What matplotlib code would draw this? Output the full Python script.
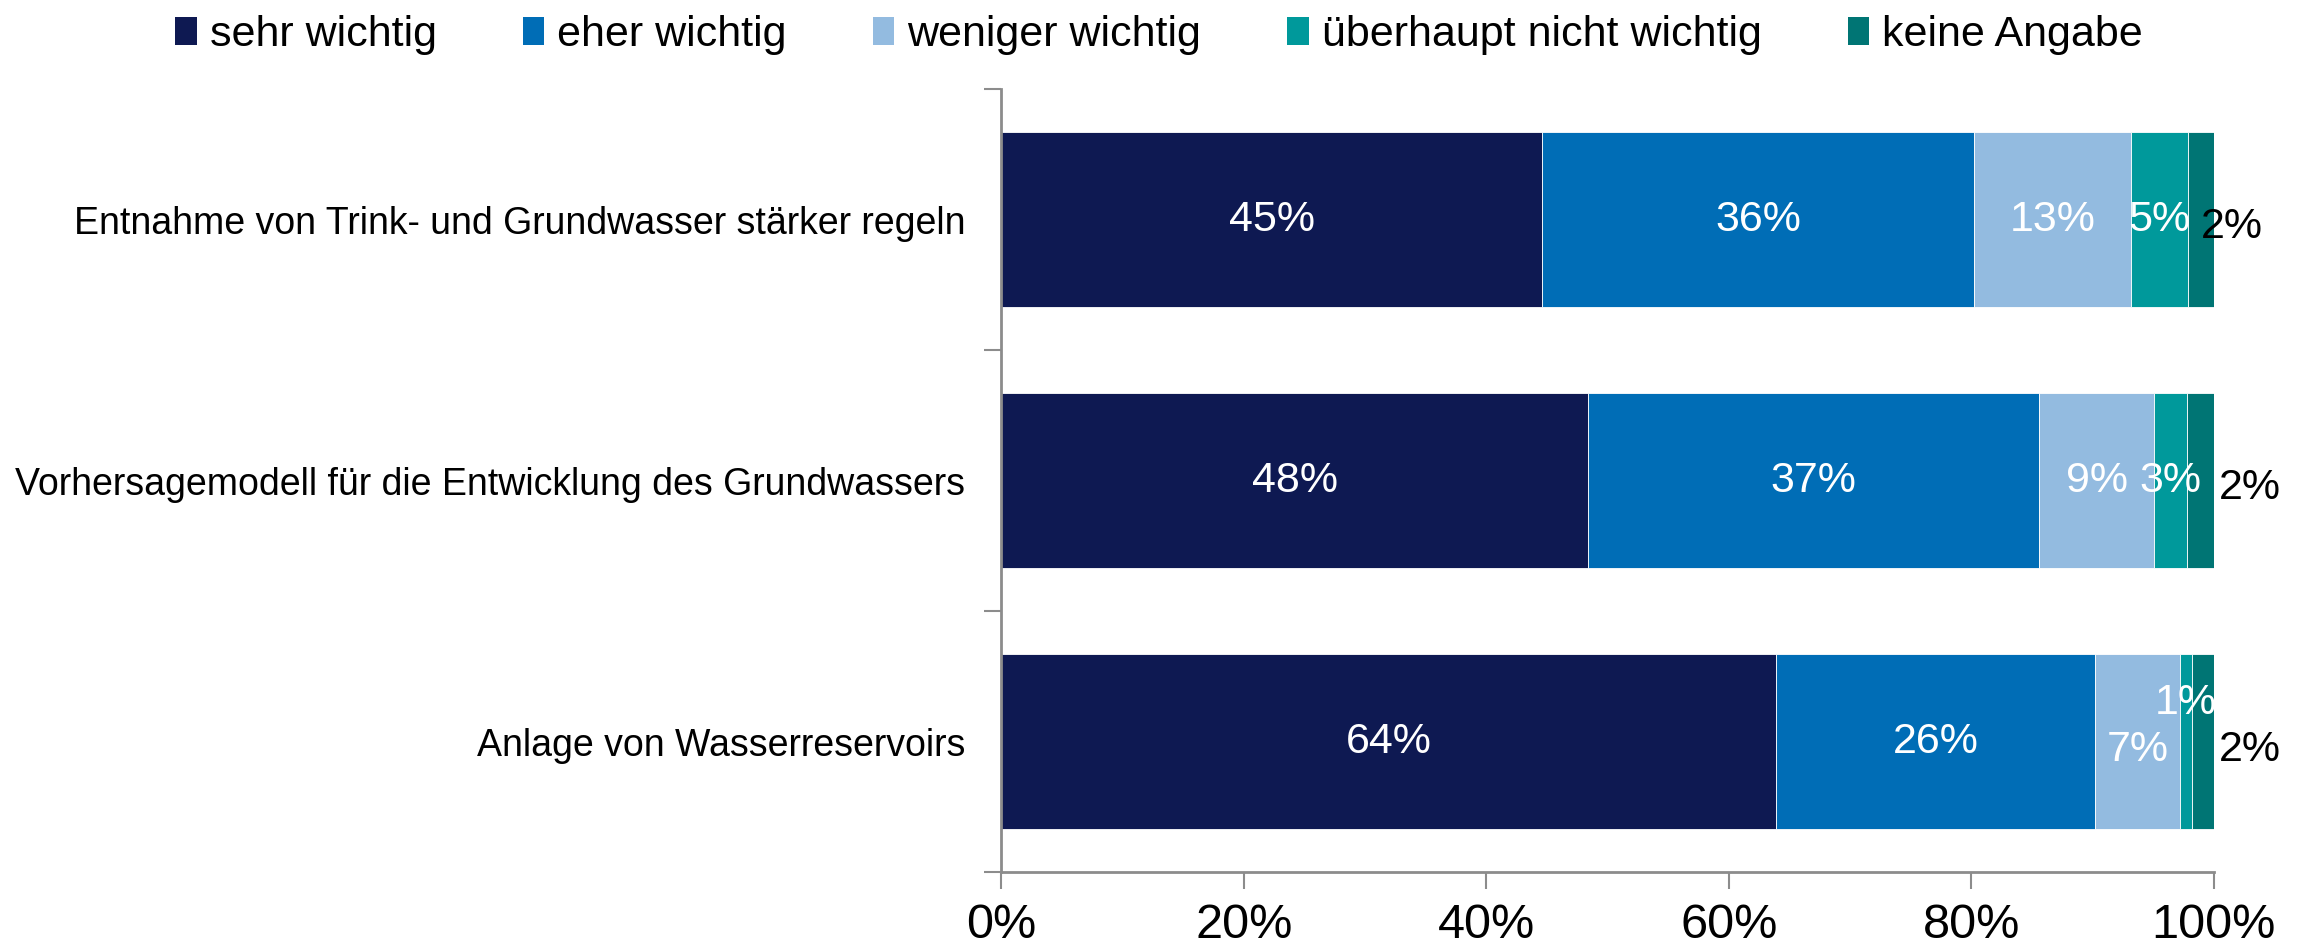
import matplotlib.pyplot as plt
import numpy as np
from matplotlib.patches import Patch
from matplotlib.ticker import FixedLocator

plt.rcParams["font.family"] = ["Liberation Sans", "DejaVu Sans"]

categories = [
    "Entnahme von Trink- und Grundwasser stärker regeln",
    "Vorhersagemodell für die Entwicklung des Grundwassers",
    "Anlage von Wasserreservoirs",
]
series_names = ["sehr wichtig", "eher wichtig", "weniger wichtig",
                "überhaupt nicht wichtig", "keine Angabe"]
sehr = [44.6, 48.4, 63.9]
eher = [35.6, 37.2, 26.3]
weniger = [13.0, 9.5, 7.0]
ueberhaupt = [4.7, 2.7, 1.0]
keine = [2.1, 2.2, 1.8]
labels = [
    ["45%", "48%", "64%"],
    ["36%", "37%", "26%"],
    ["13%", "9%", "7%"],
    ["5%", "3%", "1%"],
    ["2%", "2%", "2%"],
]
colors = ["#0e1952", "#006db6", "#93bbe0", "#00999b", "#007574"]

series = [sehr, eher, weniger, ueberhaupt, keine]

fig = plt.figure(figsize=(23.18, 9.42), dpi=100)
ax = fig.add_axes([0.432, 0.074, 0.523, 0.8315])

y = np.arange(len(categories))
left = np.zeros(len(categories))
for i, vals in enumerate(series):
    vals = np.array(vals)
    ax.barh(y, vals, left=left, height=0.67, color=colors[i],
            edgecolor="white", linewidth=0.6, label=series_names[i])
    for j in range(len(categories)):
        cx = left[j] + vals[j] / 2
        cy = y[j]
        col = "white"
        if i == 4:
            # last segment label sits outside the bar
            col = "black"
            cx = 100 + (1.5 if j == 0 else 3.0)
            cy = y[j] + 0.03
        if i == 2 and j == 2:
            cy = y[j] + 0.03
        if i == 3 and j == 2:
            cy = y[j] - 0.15
        ax.text(cx, cy, labels[i][j], ha="center", va="center",
                color=col, fontsize=31)
    left += vals

ax.set_xlim(0, 100)
ax.set_ylim(2.5, -0.5)
ax.set_xticks([0, 20, 40, 60, 80, 100])
ax.set_xticklabels(["0%", "20%", "40%", "60%", "80%", "100%"], fontsize=35)
ax.set_yticks(y)
ax.set_yticklabels(categories, fontsize=27)
ax.tick_params(axis="y", which="major", length=0, pad=26)
ax.yaxis.set_minor_locator(FixedLocator([-0.5, 0.5, 1.5, 2.5]))
ax.tick_params(axis="y", which="minor", length=12, width=1.5, color="#8c8c8c")
ax.tick_params(axis="x", length=12, width=1.5, color="#8c8c8c", pad=10)

for s in ["top", "right"]:
    ax.spines[s].set_visible(False)
for s in ["left", "bottom"]:
    ax.spines[s].set_color("#8c8c8c")
    ax.spines[s].set_linewidth(2)

handles = [Patch(facecolor=c, edgecolor="none") for c in colors]
fig.legend(handles, series_names, loc="upper center", bbox_to_anchor=(0.5, 1.025),
           ncol=5, frameon=False, fontsize=31, handlelength=0.5, handleheight=0.6,
           handletextpad=0.3, columnspacing=2.0)

fig.savefig("out.png", dpi=100)
